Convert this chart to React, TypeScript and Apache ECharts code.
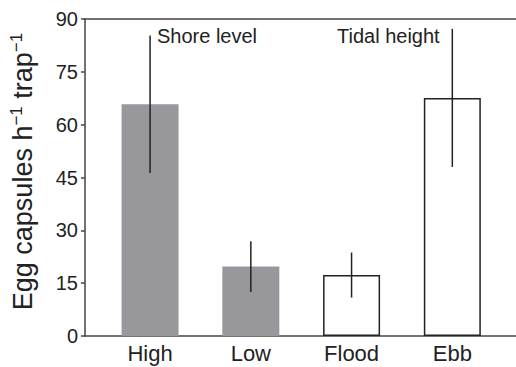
import React, { useEffect, useRef } from "react";
import * as echarts from "echarts";

const categories = ["High", "Low", "Flood", "Ebb"];
const means = [65.8, 19.7, 17.3, 67.6];
const errors = [19.5, 7.2, 6.4, 19.6];
const filled = [true, true, false, false];
const yTicks = [0, 15, 30, 45, 60, 75, 90];
const annotations = ["Shore level", "Tidal height"];

const FONT = "'Liberation Sans', Arial, Helvetica, sans-serif";
const GRAY = "#98979c";
const INK = "#222222";
const AXIS = "#444444";

export default function App() {
  const ref = useRef<HTMLDivElement>(null);
  useEffect(() => {
    document.body.style.margin = "0";
    const chart = echarts.init(ref.current!, null, { renderer: "svg" });
    const barData = means.map((v, i) => ({
      value: v,
      itemStyle: filled[i]
        ? { color: GRAY, borderWidth: 0 }
        : { color: "#ffffff", borderColor: INK, borderWidth: 1.5 },
    }));
    const errData = means.map((v, i) => [i, v - errors[i], v + errors[i]]);
    chart.setOption({
      animation: false,
      grid: [
        { left: 81, right: 0, top: 19, bottom: 31 },
        { left: 99.7, right: 13.3, top: 19, bottom: 31 },
      ],
      xAxis: [
        {
          gridIndex: 0,
          type: "value",
          min: 0,
          max: 1,
          axisLine: { show: true, lineStyle: { color: AXIS, width: 1.5 } },
          axisTick: { show: false },
          axisLabel: { show: false },
          splitLine: { show: false },
        },
        {
          gridIndex: 0,
          type: "value",
          position: "top",
          min: 0,
          max: 1,
          axisLine: { show: true, lineStyle: { color: AXIS, width: 1.5 } },
          axisTick: { show: false },
          axisLabel: { show: false },
          splitLine: { show: false },
        },
        {
          gridIndex: 1,
          type: "category",
          data: categories,
          axisLine: { show: false },
          axisTick: {
            show: true,
            alignWithLabel: true,
            inside: true,
            length: 3,
            lineStyle: { color: AXIS, width: 1 },
          },
          axisLabel: {
            color: INK,
            fontFamily: FONT,
            fontSize: 22,
            margin: 6,
          },
        },
      ],
      yAxis: [
        {
          gridIndex: 0,
          type: "value",
          min: 0,
          max: 90,
          interval: 15,
          axisLine: { show: true, lineStyle: { color: AXIS, width: 1.5 } },
          axisTick: { show: true, length: 4, lineStyle: { color: AXIS, width: 1.5 } },
          axisLabel: {
            color: INK,
            fontFamily: FONT,
            fontSize: 20,
            margin: 7,
            formatter: (v: number) => (yTicks.includes(v) ? String(v) : ""),
          },
          splitLine: { show: false },
          name: "{a|Egg capsules h}{s|−1}{a| trap}{s|−1}",
          nameLocation: "middle",
          nameGap: 47,
          nameRotate: 90,
          nameTextStyle: {
            padding: [0, 0, 0, 12],
            rich: {
              a: { fontFamily: FONT, fontSize: 27, color: INK, lineHeight: 30 },
              s: {
                fontFamily: FONT,
                fontSize: 17,
                color: INK,
                lineHeight: 30,
                verticalAlign: "top",
                padding: [0, 0, 12, 0],
              },
            },
          },
        },
        {
          gridIndex: 1,
          type: "value",
          min: 0,
          max: 90,
          show: false,
        },
      ],
      series: [
        {
          type: "bar",
          xAxisIndex: 2,
          yAxisIndex: 1,
          data: barData,
          barWidth: 57,
        },
        {
          type: "custom",
          xAxisIndex: 2,
          yAxisIndex: 1,
          data: errData,
          z: 10,
          renderItem: (params: any, api: any) => {
            const lo = api.coord([api.value(0), api.value(1)]);
            const hi = api.coord([api.value(0), api.value(2)]);
            return {
              type: "line",
              shape: { x1: lo[0], y1: lo[1], x2: hi[0], y2: hi[1] },
              style: { stroke: INK, lineWidth: 1.5 },
            };
          },
        },
      ],
      graphic: [
        {
          type: "text",
          left: 157,
          top: 26,
          style: { text: annotations[0], fontFamily: FONT, fontSize: 20, fill: INK },
        },
        {
          type: "text",
          left: 337,
          top: 26,
          style: { text: annotations[1], fontFamily: FONT, fontSize: 20, fill: INK },
        },
      ],
    });
    return () => chart.dispose();
  }, []);
  return <div ref={ref} style={{ width: 516, height: 367 }} />;
}
